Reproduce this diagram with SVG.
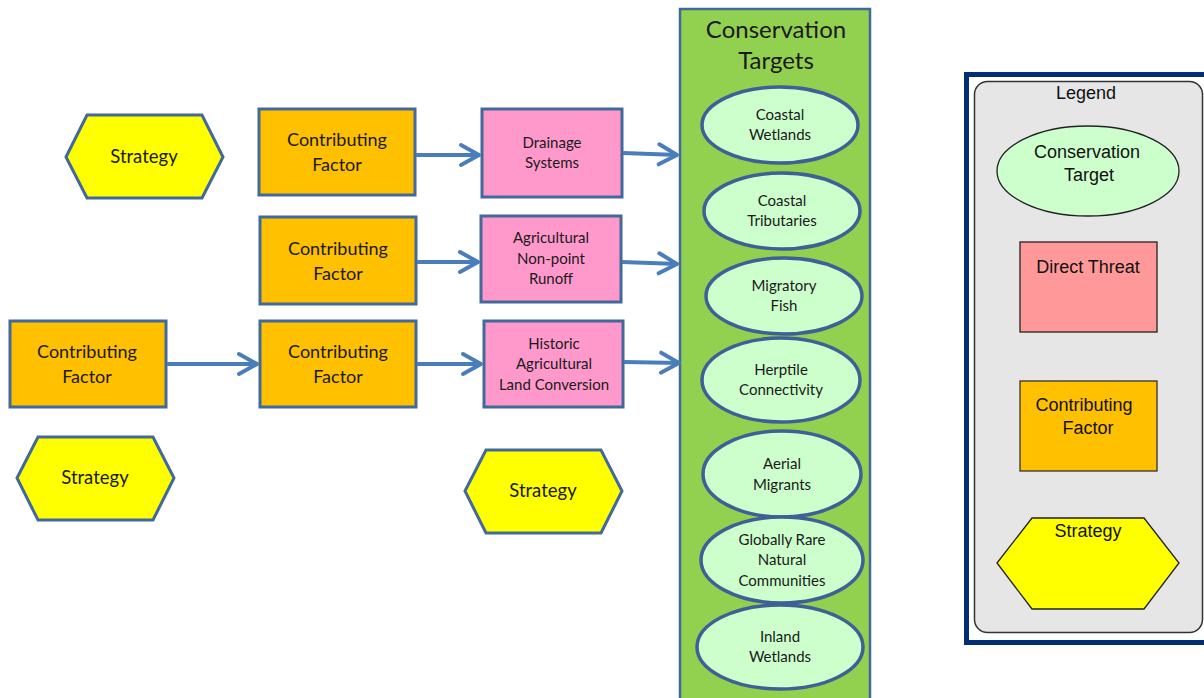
<svg xmlns="http://www.w3.org/2000/svg" width="1204" height="698" viewBox="0 0 1204 698">
<style>
.t{font-family:Lato,"Liberation Sans",sans-serif;fill:#1a1a1a;text-anchor:middle}
.cf{fill:#FFC000;stroke:#41699C;stroke-width:3}
.dt{fill:#FF99CC;stroke:#41699C;stroke-width:3}
.st{fill:#FFFF00;stroke:#41699C;stroke-width:3}
.ct{fill:#CCFFCC;stroke:#3F5F96;stroke-width:3.5}
.c{stroke:#4A7EBB;stroke-width:4;fill:none}
.lg{font-family:"Liberation Sans",Arial,sans-serif;fill:#111;text-anchor:middle;font-size:18px}
.f18{font-size:18px}.f15{font-size:15px}.f17{font-size:18.5px}
</style>
<defs>
<marker id="arr" markerUnits="userSpaceOnUse" markerWidth="30" markerHeight="30" viewBox="-25 -15 30 30" refX="0" refY="0" orient="auto">
<path d="M-19,-10 L-1,0 L-19,10" fill="none" stroke="#4A7EBB" stroke-width="4" stroke-linecap="round" stroke-linejoin="round"/>
</marker>
</defs>
<rect width="1204" height="698" fill="#fff"/>

<g id="targets">
<rect x="680" y="9" width="190" height="700" fill="#92D050" stroke="#41699C" stroke-width="2.5"/>
<text class="t" x="776" y="38" font-size="24">Conservation</text>
<text class="t" x="776" y="69" font-size="24">Targets</text>
</g>
<g id="t1"><ellipse class="ct" cx="780" cy="125" rx="78" ry="38"/><text class="t f15" x="780" y="120">Coastal</text><text class="t f15" x="780" y="140">Wetlands</text></g>
<g id="t2"><ellipse class="ct" cx="782" cy="211" rx="78" ry="38"/><text class="t f15" x="782" y="206">Coastal</text><text class="t f15" x="782" y="226">Tributaries</text></g>
<g id="t3"><ellipse class="ct" cx="784" cy="296" rx="78" ry="38"/><text class="t f15" x="784" y="291">Migratory</text><text class="t f15" x="784" y="311">Fish</text></g>
<g id="t4"><ellipse class="ct" cx="781" cy="380" rx="79" ry="42"/><text class="t f15" x="781" y="375">Herptile</text><text class="t f15" x="781" y="395">Connectivity</text></g>
<g id="t5"><ellipse class="ct" cx="782" cy="474" rx="79" ry="43"/><text class="t f15" x="782" y="469">Aerial</text><text class="t f15" x="782" y="490">Migrants</text></g>
<g id="t6"><ellipse class="ct" cx="782" cy="560" rx="81" ry="43"/><text class="t f15" x="782" y="545">Globally Rare</text><text class="t f15" x="782" y="565">Natural</text><text class="t f15" x="782" y="586">Communities</text></g>
<g id="t7"><ellipse class="ct" cx="780" cy="647" rx="83" ry="42"/><text class="t f15" x="780" y="642">Inland</text><text class="t f15" x="780" y="662">Wetlands</text></g>

<g id="s1"><polygon class="st" points="66,157 87,115 202,115 223,157 202,198 87,198"/><text class="t f17" x="144" y="163">Strategy</text></g>
<g id="s2"><polygon class="st" points="17,478 38,437 153,437 174,478 153,520 38,520"/><text class="t f17" x="95" y="484">Strategy</text></g>
<g id="s3"><polygon class="st" points="465,491 486,450 601,450 622,491 601,533 486,533"/><text class="t f17" x="543" y="497">Strategy</text></g>

<g id="cf1"><rect class="cf" x="259" y="109" width="156" height="86"/><text class="t f18" x="337" y="146">Contributing</text><text class="t f18" x="337" y="171">Factor</text></g>
<g id="cf2"><rect class="cf" x="260" y="217" width="156" height="87"/><text class="t f18" x="338" y="255">Contributing</text><text class="t f18" x="338" y="280">Factor</text></g>
<g id="cf3"><rect class="cf" x="10" y="321" width="156" height="86"/><text class="t f18" x="87" y="358">Contributing</text><text class="t f18" x="87" y="383">Factor</text></g>
<g id="cf4"><rect class="cf" x="260" y="321" width="156" height="86"/><text class="t f18" x="338" y="358">Contributing</text><text class="t f18" x="338" y="383">Factor</text></g>

<g id="d1"><rect class="dt" x="482" y="109" width="140" height="88"/><text class="t f15" x="552" y="148">Drainage</text><text class="t f15" x="552" y="168">Systems</text></g>
<g id="d2"><rect class="dt" x="481" y="216" width="140" height="86"/><text class="t f15" x="551" y="243">Agricultural</text><text class="t f15" x="551" y="264">Non-point</text><text class="t f15" x="551" y="284">Runoff</text></g>
<g id="d3"><rect class="dt" x="484" y="321" width="139" height="86"/><text class="t f15" x="554" y="349">Historic</text><text class="t f15" x="554" y="369">Agricultural</text><text class="t f15" x="554" y="390">Land Conversion</text></g>

<g id="connectors">
<line class="c" x1="416" y1="155" x2="480" y2="155" marker-end="url(#arr)"/>
<line class="c" x1="417" y1="262" x2="479" y2="262" marker-end="url(#arr)"/>
<line class="c" x1="167" y1="364" x2="258" y2="364" marker-end="url(#arr)"/>
<line class="c" x1="417" y1="364" x2="482" y2="364" marker-end="url(#arr)"/>
<line class="c" x1="623" y1="153" x2="678" y2="155" marker-end="url(#arr)"/>
<line class="c" x1="622" y1="262" x2="678" y2="264" marker-end="url(#arr)"/>
<line class="c" x1="624" y1="362" x2="680" y2="363" marker-end="url(#arr)"/>
</g>

<g id="legend">
<rect x="966.5" y="74.5" width="260" height="568" fill="#fff" stroke="#002F75" stroke-width="5"/>
<rect x="974.5" y="81.5" width="228" height="551" rx="13" fill="#E6E6E6" stroke="#333" stroke-width="1.5"/>
<text class="lg" x="1086" y="99" font-size="17">Legend</text>
</g>
<g id="lg-target"><ellipse cx="1088" cy="171" rx="91" ry="45" fill="#CCFFCC" stroke="#222" stroke-width="1.3"/><text class="lg" x="1087" y="158">Conservation</text><text class="lg" x="1089" y="181">Target</text></g>
<g id="lg-threat"><rect x="1020" y="242" width="137" height="90" fill="#FF9999" stroke="#222" stroke-width="1.3"/><text class="lg" x="1088" y="273">Direct Threat</text></g>
<g id="lg-cf"><rect x="1020" y="381" width="137" height="90" fill="#FFC000" stroke="#333" stroke-width="1.3"/><text class="lg" x="1084" y="411">Contributing</text><text class="lg" x="1088" y="434">Factor</text></g>
<g id="lg-st"><polygon points="997,563 1032,518 1144,518 1179,563 1144,609 1032,609" fill="#FFFF00" stroke="#222" stroke-width="1.3"/><text class="lg" x="1088" y="537">Strategy</text></g>
</svg>
